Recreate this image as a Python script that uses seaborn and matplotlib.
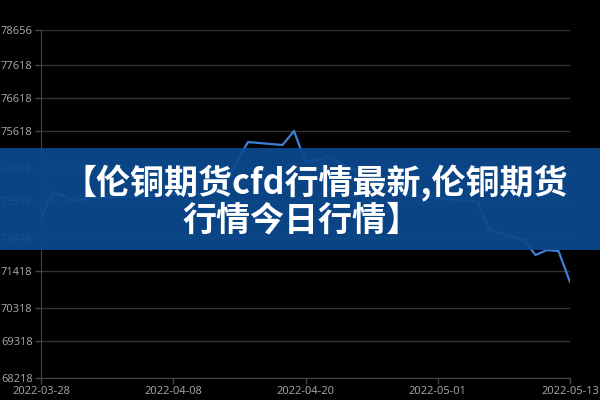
#伦铜期货 price line with title banner

import numpy as np
import pandas as pd
import matplotlib.pyplot as plt
import matplotlib.dates as mdates
import seaborn as sns
from matplotlib.patches import Rectangle

# trading days (weekends and Chinese holidays skipped)
dates = ["2022-03-28", "2022-03-29", "2022-03-30", "2022-03-31", "2022-04-01",
         "2022-04-06", "2022-04-07", "2022-04-08",
         "2022-04-11", "2022-04-12", "2022-04-13", "2022-04-14", "2022-04-15",
         "2022-04-18", "2022-04-19", "2022-04-20", "2022-04-21", "2022-04-22",
         "2022-04-25", "2022-04-26", "2022-04-27", "2022-04-28", "2022-04-29",
         "2022-05-05", "2022-05-06",
         "2022-05-09", "2022-05-10", "2022-05-11", "2022-05-12", "2022-05-13"]
prices = [73016, 73796, 73676, 73526, 73616,
          73676, 73706, 73736,
          73736, 73766, 74006, 74696, 75296,
          75206, 75626, 74696, 74756, 74846,
          74306, 74216, 74096, 73856, 73706,
          73496, 72656,
          72356, 71906, 72056, 72026, 71096]

y_ticks = [68218, 69318, 70318, 71418, 72418, 73518, 74518, 75618, 76618, 77618, 78656]
title_lines = ["【伦铜期货cfd行情最新,伦铜期货", "行情今日行情】"]

df = pd.DataFrame({"date": pd.to_datetime(dates), "price": prices})

sns.set_style("dark")
plt.rcParams["font.family"] = ["Noto Sans", "DejaVu Sans"]

fig = plt.figure(figsize=(6, 4), dpi=100, facecolor="black")
ax = fig.add_axes([41/600, 22/400, 529/600, 348/400])
ax.set_facecolor("black")

sns.lineplot(data=df, x="date", y="price", ax=ax, color="#3f7fd8", linewidth=1.6)

ax.set_ylim(y_ticks[0], y_ticks[-1])
ax.set_yticks(y_ticks)
ax.set_yticklabels([str(v) for v in y_ticks])
ax.set_xlim(df["date"].min(), df["date"].max())
xt = pd.date_range(df["date"].min(), df["date"].max(), periods=5)
ax.set_xticks(xt)
ax.xaxis.set_major_formatter(mdates.DateFormatter("%Y-%m-%d"))
ax.set_xlabel("")
ax.set_ylabel("")

ax.grid(axis="y", color="#333333", linewidth=1)
ax.grid(axis="x", visible=False)
for s in ["top", "right"]:
    ax.spines[s].set_visible(False)
for s in ["left", "bottom"]:
    ax.spines[s].set_visible(True)
    ax.spines[s].set_color("#444444")
ax.tick_params(axis="both", colors="#444444", labelcolor="#a0a0a0", labelsize=8,
               length=4, width=1, pad=2, left=True, bottom=True)

# title banner over the chart
fig.patches.append(Rectangle((0, 150/400), 1, 102/400, transform=fig.transFigure,
                             facecolor="#0b4a8f", edgecolor="none", linewidth=0,
                             alpha=0.93, zorder=5))
cjk = ["Noto Sans CJK SC", "DejaVu Sans"]
fig.text(315/600, 1 - 183/400, title_lines[0], ha="center", va="center", color="white",
         fontsize=24.5, fontweight="heavy", family=cjk, zorder=6)
fig.text(301/600, 1 - 220/400, title_lines[1], ha="center", va="center", color="white",
         fontsize=24.5, fontweight="heavy", family=cjk, zorder=6)

plt.savefig("out.png", dpi=100, facecolor="black")
